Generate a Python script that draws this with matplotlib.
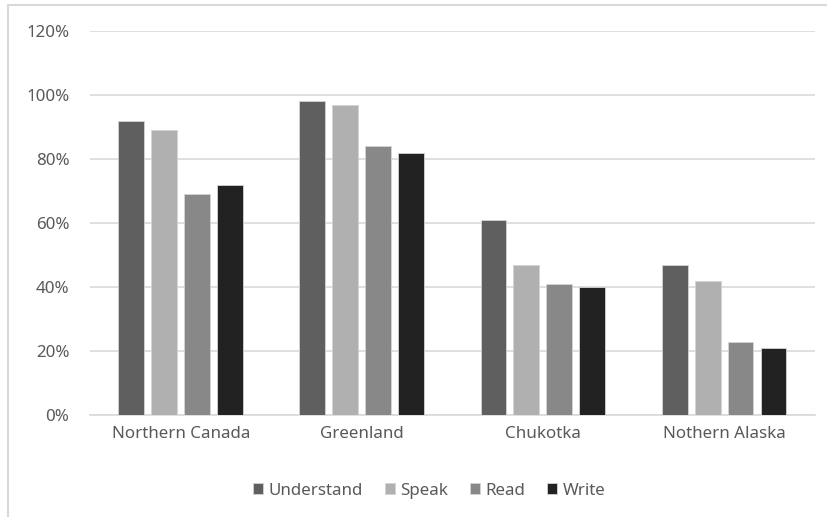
import matplotlib.pyplot as plt
import numpy as np
from matplotlib.lines import Line2D

plt.rcParams['font.family'] = ['Noto Sans', 'DejaVu Sans']

regions = ['Northern Canada', 'Greenland', 'Chukotka', 'Nothern Alaska']
series = ['Understand', 'Speak', 'Read', 'Write']
understand = [92, 98, 61, 47]
speak = [89, 97, 47, 42]
read = [69, 84, 41, 23]
write = [72, 82, 40, 21]
values = [understand, speak, read, write]
colors = ['#5f5f5f', '#b0b0b0', '#888888', '#222222']

fig = plt.figure(figsize=(8.27, 5.17), dpi=100)
ax = fig.add_axes([0.109, 0.197, 0.876, 0.743])

x = np.arange(len(regions))
width = 0.143
step = 0.182
for i, (name, vals) in enumerate(zip(series, values)):
    ax.bar(x + (i - 1.5) * step, np.array(vals) / 100, width,
           color=colors[i], edgecolor='#d4d4d4', linewidth=0.6,
           label=name, zorder=3)

ax.set_xlim(-0.5, 3.5)
ax.set_ylim(0, 1.2)
ax.set_yticks(np.arange(0, 1.21, 0.2))
ax.set_yticklabels([f'{int(round(v * 100))}%' for v in np.arange(0, 1.21, 0.2)])
ax.set_xticks(x)
ax.set_xticklabels(regions)
ax.grid(axis='y', color='#d9d9d9', linewidth=1.2, zorder=0)
for s in ['top', 'right', 'left']:
    ax.spines[s].set_visible(False)
ax.spines['bottom'].set_color('#d9d9d9')
ax.spines['bottom'].set_linewidth(1.2)
ax.tick_params(axis='both', length=0, colors='#595959', labelsize=12.2)
ax.tick_params(axis='y', pad=15)
ax.tick_params(axis='x', pad=8)

ax.legend(loc='center', bbox_to_anchor=(0.468, -0.197), ncol=4, frameon=False,
          fontsize=12.2, labelcolor='#595959', handlelength=0.6,
          handleheight=0.6, handletextpad=0.3, columnspacing=1.3)

# chart frame edges
fig.add_artist(Line2D([8 / 827, 1], [1 - 5 / 517, 1 - 5 / 517],
                      transform=fig.transFigure, color='#d9d9d9', lw=1.5))
fig.add_artist(Line2D([8 / 827, 8 / 827], [0, 1 - 5 / 517],
                      transform=fig.transFigure, color='#d9d9d9', lw=1.5))

fig.savefig('out.png', dpi=100)
